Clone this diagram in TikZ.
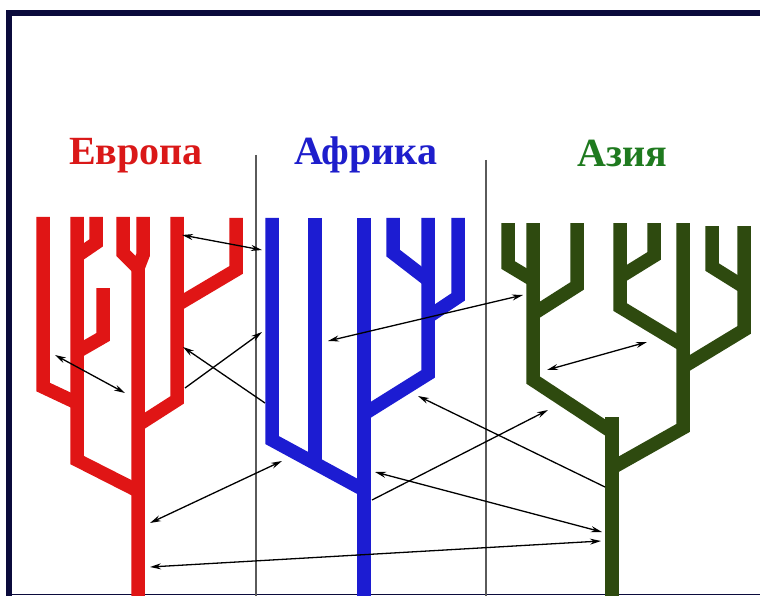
\documentclass[tikz,border=0pt]{standalone}
\usepackage{fontspec}
\setmainfont{Liberation Serif}
\usetikzlibrary{arrows.meta}
\definecolor{framenavy}{HTML}{0B0B3C}
\definecolor{treered}{HTML}{E01515}
\definecolor{treeblue}{HTML}{1C1CD2}
\definecolor{treegreen}{HTML}{2E4A0F}
\definecolor{textred}{HTML}{DA1818}
\definecolor{textblue}{HTML}{1E1ECC}
\definecolor{textgreen}{HTML}{1F7A1F}
\definecolor{divgray}{HTML}{5A5A5A}
\begin{document}
\begin{tikzpicture}[x=1pt,y=-1pt,
  branch/.style={line width=13.5pt,line join=miter,line cap=butt},
  oneway/.style={line width=1.3pt,black,-{Stealth[length=11pt,width=6pt]}},
  twoway/.style={line width=1.3pt,black,{Stealth[length=11pt,width=6pt]}-{Stealth[length=11pt,width=6pt]}},
  divider/.style={line width=1.2pt,divgray},
  title/.style={font=\fontsize{40}{40}\selectfont\bfseries,anchor=base,inner sep=0pt}]
\useasboundingbox (0,0) rectangle (760,596);
\fill[white] (0,0) rectangle (760,596);

% frame
\fill[framenavy] (6,10) rectangle (760,16);
\fill[framenavy] (6,10) rectangle (12,596);
\draw[framenavy,line width=1.5pt] (6,594.5) -- (760,594.5);

% column dividers
\draw[divider] (256,155) -- (256,596);
\draw[divider] (486,160) -- (486,596);

% titles
\node[title,text=textred]   (eu) at (136,165) {Европа};
\node[title,text=textblue]  (af) at (366,165) {Африка};
\node[title,text=textgreen] (as) at (622,167) {Азия};

% Europe
\begin{scope}[draw=treered]
  \draw[branch] (43,217) -- (43,387) -- (77,403);
  \draw[branch] (77,217) -- (77,460) -- (138,491);
  \draw[branch] (96,217) -- (96,243) -- (77,256);
  \draw[branch] (103,288) -- (103,337) -- (77,352);
  \draw[branch] (123,217) -- (123,253) -- (138,268);
  \draw[branch] (143,217) -- (143,255) -- (138,268) -- (138,596);
  \draw[branch] (177,217) -- (177,400) -- (138,425);
  \draw[branch] (236,218) -- (236,270) -- (177,305);
\end{scope}

% Africa
\begin{scope}[draw=treeblue]
  \draw[branch] (272,218) -- (272,440) -- (364,490);
  \draw[branch] (315,218) -- (315,464);
  \draw[branch] (364,218) -- (364,596);
  \draw[branch] (364,414) -- (428,374) -- (428,218);
  \draw[branch] (393,218) -- (393,253) -- (428,280);
  \draw[branch] (458,218) -- (458,297) -- (428,317);
\end{scope}

% Asia
\begin{scope}[draw=treegreen]
  \draw[branch] (508,223) -- (508,265) -- (533,280);
  \draw[branch] (533,223) -- (533,380) -- (612,432);
  \draw[branch] (577,223) -- (577,286) -- (533,314);
  \draw[branch] (612,417) -- (612,596);
  \draw[branch] (612,468) -- (683,428) -- (683,223);
  \draw[branch] (620,223) -- (620,307) -- (683,345);
  \draw[branch] (654,223) -- (654,256) -- (620,277);
  \draw[branch] (712,226) -- (712,267) -- (744,287);
  \draw[branch] (744,226) -- (744,330) -- (683,367);
\end{scope}

% link end points
\coordinate (eA) at (182,235);  \coordinate (aA) at (262,250);
\coordinate (eB) at (185,388);  \coordinate (aB) at (262,332);
\coordinate (aC) at (265,403);  \coordinate (eC) at (183,347);
\coordinate (eD1) at (55,355);  \coordinate (eD2) at (125,393);
\coordinate (eE) at (150,523);  \coordinate (aE) at (282,461);
\coordinate (eF) at (150,567);  \coordinate (sF) at (601,541);
\coordinate (aG) at (328,341);  \coordinate (sG) at (523,295);
\coordinate (sH1) at (547,370); \coordinate (sH2) at (647,342);
\coordinate (aI) at (372,500);  \coordinate (sI) at (548,410);
\coordinate (sJ) at (605,487);  \coordinate (aJ) at (418,396);
\coordinate (aK) at (375,472);  \coordinate (sK) at (602,532);

% links
\draw[twoway] (eA) -- (aA);
\draw[oneway] (eB) -- (aB);
\draw[oneway] (aC) -- (eC);
\draw[twoway] (eD1) -- (eD2);
\draw[twoway] (eE) -- (aE);
\draw[twoway] (eF) -- (sF);
\draw[twoway] (aG) -- (sG);
\draw[twoway] (sH1) -- (sH2);
\draw[oneway] (aI) -- (sI);
\draw[oneway] (sJ) -- (aJ);
\draw[twoway] (aK) -- (sK);
\end{tikzpicture}
\end{document}
